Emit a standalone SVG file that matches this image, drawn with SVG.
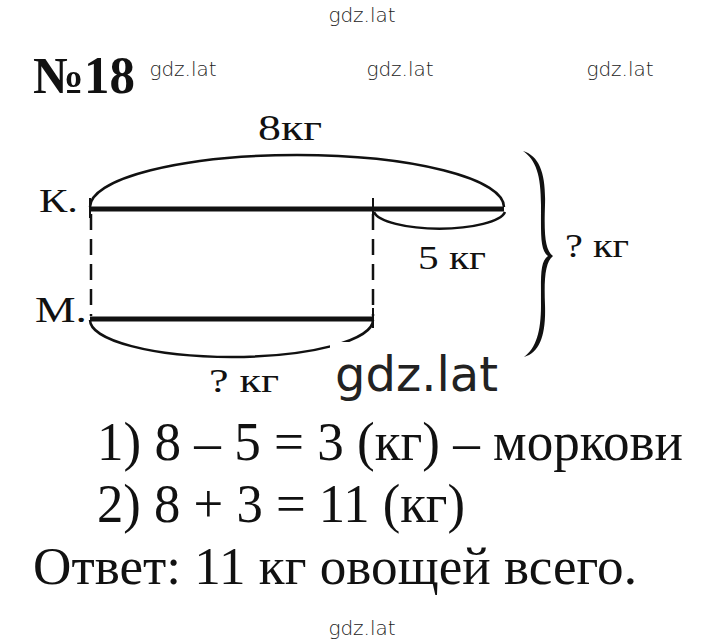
<svg xmlns="http://www.w3.org/2000/svg" width="720" height="643" viewBox="0 0 720 643">
<style>
.s{font-family:"Liberation Serif","Times New Roman",serif;fill:#111}
.w{font-family:"DejaVu Sans","Liberation Sans",sans-serif;fill:#222;font-weight:200}
.ln{stroke:#111;fill:none}
</style>
<rect width="720" height="643" fill="#fff"/>
<g id="watermarks">
<text class="w" x="362" y="22" font-size="20" text-anchor="middle">gdz.lat</text>
<text class="w" x="183" y="76" font-size="20" text-anchor="middle">gdz.lat</text>
<text class="w" x="400" y="76" font-size="20" text-anchor="middle">gdz.lat</text>
<text class="w" x="620" y="76" font-size="20" text-anchor="middle">gdz.lat</text>
<text class="w" x="362" y="635" font-size="20" text-anchor="middle">gdz.lat</text>
</g>
<text id="title" class="s" x="33" y="93" font-size="52" font-weight="bold" textLength="102" lengthAdjust="spacingAndGlyphs">№18</text>
<g id="top-bar">
<line class="ln" x1="90" y1="209" x2="504" y2="209" stroke-width="5"/>
<line class="ln" x1="90" y1="198" x2="90" y2="218" stroke-width="2"/>
<line class="ln" x1="373" y1="198" x2="373" y2="218" stroke-width="2"/>
<text class="s" x="39" y="212" font-size="34" textLength="39" lengthAdjust="spacingAndGlyphs">К.</text>
</g>
<g id="bottom-bar">
<line class="ln" x1="90" y1="319" x2="373" y2="319" stroke-width="5"/>
<line class="ln" x1="373" y1="308" x2="373" y2="328" stroke-width="2"/>
<text class="s" x="35" y="322" font-size="36" textLength="52" lengthAdjust="spacingAndGlyphs">М.</text>
</g>
<g id="connectors">
<path class="ln" stroke-width="2.5" d="M90,207 A207,52 0 0 1 504,207"/>
<path class="ln" stroke-width="2.5" d="M374,212 A66,19 0 0 0 505,212"/>
<path class="ln" stroke-width="2.5" d="M90,320 A141.5,37 0 0 0 373,320"/>
<line class="ln" x1="91" y1="214" x2="91" y2="316" stroke-width="2.5" stroke-dasharray="16,9"/>
<line class="ln" x1="373" y1="214" x2="373" y2="316" stroke-width="2.5" stroke-dasharray="16,9"/>
<path fill="#111" d="M523,151 C540,156 546,175 545,205 C544,235 545,250 553,256 C545,262 544,280 545,305 C546,335 540,352 524,357 C536,348 541,332 541,305 C541,275 540,262 548,256 C540,250 541,235 541,205 C541,175 536,160 523,151 Z"/>
</g>
<text class="s" x="258" y="140" font-size="35" textLength="64" lengthAdjust="spacingAndGlyphs">8кг</text>
<text class="s" x="418" y="269" font-size="34" textLength="68" lengthAdjust="spacingAndGlyphs">5 кг</text>
<text class="s" x="565" y="257" font-size="34" textLength="64" lengthAdjust="spacingAndGlyphs">? кг</text>
<text class="s" x="209" y="392" font-size="34" textLength="70" lengthAdjust="spacingAndGlyphs">? кг</text>
<rect x="330" y="342" width="172" height="60" fill="#fff"/>
<text class="w" x="335" y="391" font-size="48" fill="#000" style="font-weight:normal">gdz.lat</text>
<text class="s" x="97" y="460" font-size="54" textLength="586" lengthAdjust="spacingAndGlyphs">1) 8 – 5 = 3 (кг) – моркови</text>
<text class="s" x="97" y="522" font-size="54" textLength="368" lengthAdjust="spacingAndGlyphs">2) 8 + 3 = 11 (кг)</text>
<text class="s" x="33" y="584" font-size="53" textLength="604" lengthAdjust="spacingAndGlyphs">Ответ: 11 кг овощей всего.</text>
</svg>
